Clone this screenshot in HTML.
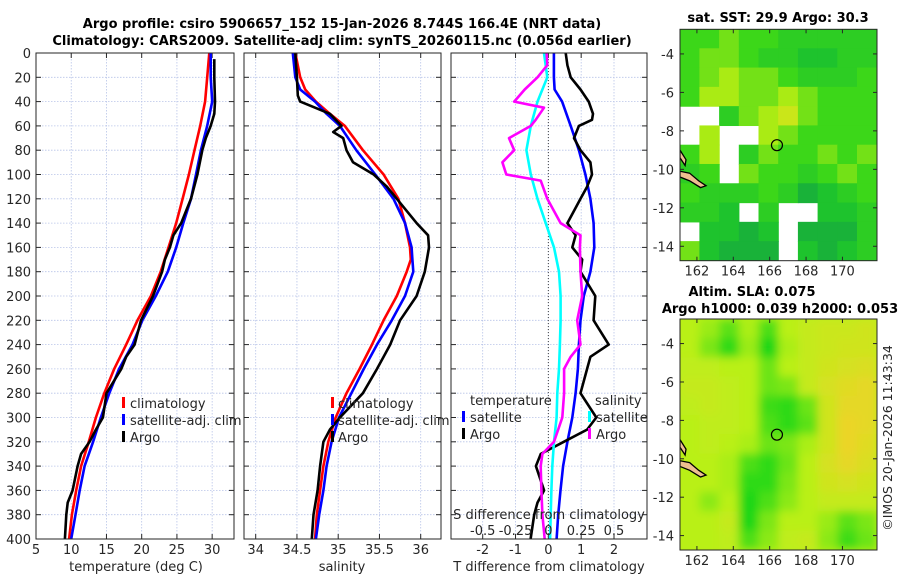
<!DOCTYPE html>
<html><head><meta charset="utf-8"><style>
body{margin:0;background:#fff;}
svg{display:block;font-family:"DejaVu Sans","Liberation Sans",sans-serif;}
</style></head><body>
<svg id="fig" width="900" height="580" viewBox="0 0 900 580" xmlns="http://www.w3.org/2000/svg">
<rect x="0" y="0" width="900" height="580" fill="#fff"/>
<text x="342" y="28" text-anchor="middle" font-size="13" font-weight="bold" fill="#000">Argo profile: csiro 5906657_152 15-Jan-2026 8.744S 166.4E (NRT data)</text>
<text x="342" y="45" text-anchor="middle" font-size="13" font-weight="bold" fill="#000">Climatology: CARS2009. Satellite-adj clim: synTS_20260115.nc (0.056d earlier)</text>
<text x="778" y="22" text-anchor="middle" font-size="13" font-weight="bold">sat. SST: 29.9 Argo: 30.3</text>
<text x="752" y="296" text-anchor="middle" font-size="13" font-weight="bold">Altim. SLA: 0.075</text>
<text x="780" y="313" text-anchor="middle" font-size="13" font-weight="bold">Argo h1000: 0.039 h2000: 0.053</text>
<text transform="translate(892,438) rotate(-90)" text-anchor="middle" font-size="12.5" fill="#262626">©IMOS 20-Jan-2026 11:43:34</text>
<g id="layer"></g>
</svg>
<script>
// ---- data ----
const depthTempClim = [0,20,40,60,80,100,120,140,160,180,200,220,240,260,280,300,320,340,360,380,400];
const tempClim = [29.6,29.3,29.0,28.3,27.5,26.7,25.8,24.9,23.8,22.7,21.3,19.4,17.8,16.1,14.7,13.5,12.5,11.4,10.7,10.1,9.7];
const tempSat = [29.8,29.8,30.0,29.3,28.4,27.7,27.0,25.9,24.9,23.7,22.0,20.1,18.7,16.8,15.4,14.2,13.1,11.9,11.2,10.6,10.0];
const depthArgo = [5,20,40,50,60,70,80,100,120,130,140,150,160,170,180,200,220,240,250,260,280,300,310,320,330,340,360,370,380,400];
const tempArgo = [30.3,30.3,30.4,30.3,29.8,29.1,28.6,27.9,27.0,26.3,25.6,24.5,24.0,23.3,22.9,21.6,19.9,19.0,17.8,17.1,15.0,14.5,13.5,12.6,11.4,10.9,10.2,9.5,9.3,9.1];
const depthSal = [0,20,30,40,50,60,80,100,120,140,160,170,180,200,220,240,260,280,300,320,340,360,380,400];
const salClim = [34.48,34.54,34.60,34.73,34.90,35.08,35.30,35.55,35.73,35.81,35.87,35.88,35.83,35.71,35.55,35.41,35.26,35.10,34.97,34.88,34.82,34.78,34.74,34.72];
const salSat = [34.45,34.48,34.54,34.72,34.86,35.02,35.22,35.45,35.67,35.81,35.89,35.90,35.91,35.81,35.65,35.47,35.31,35.16,35.01,34.92,34.86,34.82,34.77,34.73];
const depthSalArgo = [0,20,35,40,45,50,60,65,70,80,90,100,110,120,140,150,160,180,200,220,240,260,280,300,310,320,340,360,380,400];
const salArgo = [34.48,34.50,34.51,34.54,34.72,34.90,35.04,34.94,35.06,35.10,35.18,35.43,35.59,35.71,35.95,36.09,36.10,36.05,35.95,35.75,35.63,35.47,35.30,35.02,34.90,34.82,34.78,34.75,34.70,34.68];
const depthDiffT = [0,20,30,40,60,80,100,120,140,160,180,190,200,220,240,260,280,300,320,340,360,380,400];
const dTSat = [0.17,0.17,0.19,0.42,0.68,0.93,1.13,1.28,1.38,1.40,1.28,1.18,1.08,0.98,0.93,0.90,0.83,0.73,0.58,0.45,0.37,0.30,0.25];
const depthDiffTArgo = [0,10,20,30,40,50,55,60,70,80,90,100,110,120,130,140,150,160,170,180,200,220,240,250,260,280,300,310,320,330,340,360,370,380,400];
const dTArgo = [0.53,0.58,0.68,0.98,1.23,1.36,1.33,0.93,0.78,0.98,1.28,1.33,1.18,0.98,0.78,0.58,0.83,0.73,1.03,0.98,1.43,1.38,1.84,1.28,1.18,0.98,1.46,1.18,0.47,-0.23,-0.38,-0.13,-0.33,-0.43,-0.54];
const depthDiffS = [0,20,40,60,80,100,120,140,160,180,200,220,240,260,280,300,320,340,360,380,400];
const dSSat = [-0.033,-0.008,-0.083,-0.134,-0.167,-0.134,-0.083,-0.02,0.043,0.081,0.093,0.093,0.088,0.081,0.068,0.063,0.043,0.03,0.023,0.018,0.013];
const depthDiffSArgo = [0,10,20,30,40,45,55,60,70,80,90,100,105,120,140,150,160,180,200,220,240,250,260,280,300,320,330,340,360,380,400];
const dSArgo = [-0.013,-0.008,-0.083,-0.18,-0.26,-0.033,-0.096,-0.134,-0.30,-0.26,-0.35,-0.32,-0.058,-0.008,0.093,0.245,0.24,0.245,0.258,0.22,0.245,0.17,0.12,0.12,0.106,0.043,-0.045,-0.058,-0.053,-0.045,-0.028];
const depthTicks = [0,20,40,60,80,100,120,140,160,180,200,220,240,260,280,300,320,340,360,380,400];
const tempTicks = [5,10,15,20,25,30];
const salTicks = [34,34.5,35,35.5,36];
const salTickLabels = ['34','34.5','35','35.5','36'];
const dTTicks = [-2,-1,0,1,2];
const dSTicks = [-0.5,-0.25,0,0.25,0.5];
const dSTickLabels = ['-0.5','-0.25','0','0.25','0.5'];
const lonTicks = [162,164,166,168,170];
const latTicks = [-4,-6,-8,-10,-12,-14];
const sstGrid = [
[29.9,29.9,30.0,29.9,29.9,29.8,29.8,29.8,29.8,29.8],
[29.9,30.0,30.0,29.9,29.8,29.8,29.7,29.7,29.8,29.8],
[29.9,30.0,30.1,30.0,30.0,29.9,29.8,29.8,29.8,29.9],
[29.9,30.1,30.1,30.0,30.0,30.1,30.0,29.9,29.9,29.9],
[null,null,29.8,30.0,30.1,30.2,30.0,29.9,29.9,29.9],
[null,30.1,null,null,30.1,30.0,29.9,29.9,29.9,29.9],
[29.9,30.1,null,29.8,30.0,29.9,29.9,30.0,29.9,30.0],
[29.8,29.9,null,30.0,29.9,29.9,29.8,29.9,30.0,29.9],
[29.9,29.8,29.8,29.8,29.9,29.8,29.6,29.7,29.8,29.9],
[29.8,29.8,29.7,null,29.8,null,null,29.7,29.7,29.8],
[null,29.7,29.7,29.6,29.7,null,29.6,29.6,29.6,29.8],
[30.0,29.7,29.6,29.6,29.6,null,29.7,29.6,29.7,29.8]];
const slaGrid = [
[1,0.8,0.4,0.9,0.3,1,1.2,1.3,1.3,1.4],
[1,0.6,0.1,0.8,0.0,0.9,1.2,1.3,1.4,1.4],
[1.1,1.1,1,1,0.5,1,1.2,1.4,1.5,1.6],
[1.2,1.2,1.1,1,0.5,0.6,1.2,1.5,1.7,1.8],
[1.1,1.2,1.1,1,0.2,0.1,0.5,1.4,1.8,1.8],
[1,1.1,1.1,1,0.3,0.1,0.4,1.4,1.9,1.8],
[1,1.1,1,0.9,0.5,0.6,0.9,1.4,1.9,1.7],
[1,1,0.9,0.3,0.1,0.5,1,1.5,1.8,1.6],
[1,1,0.9,0.1,0.1,0.6,1,1.4,1.5,1.4],
[1,0.7,1,0.0,0.3,0.7,1,1.2,1.2,1.2],
[1,1,1.2,0.0,0.6,1,1,0.8,0.4,0.6],
[1,1,1.1,0.3,0.7,1.1,1.2,0.7,0.2,0.5]];
const argoLon = 166.4, argoLat = -8.744;

// ---- helpers ----
const NS='http://www.w3.org/2000/svg';
const layer=document.getElementById('layer');
function mk(tag,attrs,parent){const e=document.createElementNS(NS,tag);for(const k in attrs)e.setAttribute(k,attrs[k]);(parent||layer).appendChild(e);return e;}
const Y0=53, Y1=539;
const yD = d => Y0 + d*(Y1-Y0)/400;
function lin(d0,d1,r0,r1){return v=>r0+(v-d0)*(r1-r0)/(d1-d0);}

function panel(name,x0,x1,xs,ticks,labels,showY){
  const g=mk('g',{});
  
  
  ticks.forEach(t=>{const l=mk('line',{x1:xs(t),x2:xs(t),y1:Y0,y2:Y1,stroke:'#b8c4e8','stroke-width':0.8,'stroke-dasharray':'1.5,1.5'},g);});
  depthTicks.forEach(d=>{const l=mk('line',{x1:x0,x2:x1,y1:yD(d),y2:yD(d),stroke:'#b8c4e8','stroke-width':0.8,'stroke-dasharray':'1.5,1.5'},g);
    mk('line',{x1:x0,x2:x0+5,y1:yD(d),y2:yD(d),stroke:'#262626'},g);mk('line',{x1:x1-5,x2:x1,y1:yD(d),y2:yD(d),stroke:'#262626'},g);
    if(showY){const t=mk('text',{x:x0-5,y:yD(d)+5,'text-anchor':'end','font-size':13,fill:'#262626'},g);t.textContent=d;}
  });
  ticks.forEach((t,i)=>{mk('line',{x1:xs(t),x2:xs(t),y1:Y1-5,y2:Y1,stroke:'#262626'},g);mk('line',{x1:xs(t),x2:xs(t),y1:Y0,y2:Y0+5,stroke:'#262626'},g);
    if(labels){const tx=mk('text',{x:xs(t),y:Y1+15,'text-anchor':'middle','font-size':13,fill:'#262626'},g);tx.textContent=labels[i];}});
  return g;
}
function frame(g,x0,x1){const r=mk('rect',{x:x0,y:Y0,width:x1-x0,height:Y1-Y0,fill:'none',stroke:'#262626','stroke-width':1},g);}
function series(g,name,ds,vs,xs,color){
  const pts=ds.map((d,i)=>xs(vs[i]).toFixed(1)+','+yD(d).toFixed(1)).join(' ');
  const p=mk('polyline',{points:pts,fill:'none',stroke:color,'stroke-width':2.6,'stroke-linejoin':'round'},g);
  
  
}
function txt(g,name,x,y,s,opts){const t=mk('text',Object.assign({x:x,y:y,'font-size':13,fill:'#262626'},opts||{}),g);t.textContent=s;return t;}
function legMark(g,x,y,color){const r=mk('rect',{x:x,y:y-11,width:3,height:11,fill:color},g);}

// ---- panel 1: temperature ----
const xT=lin(5,33.1,36,234);
const g1=panel('temperature-panel',36,234,xT,tempTicks,tempTicks.map(String),true);
series(g1,'temp-climatology-line',depthTempClim,tempClim,xT,'#ff0000');
series(g1,'temp-satellite-line',depthTempClim,tempSat,xT,'#0000ff');
series(g1,'temp-argo-line',depthArgo,tempArgo,xT,'#000000');
frame(g1,36,234);
txt(g1,'temp-x-axis-title',136,571,'temperature (deg C)',{'text-anchor':'middle'});
legMark(g1,122,408,'#ff0000');txt(g1,'legend-climatology',130,408,'climatology');
legMark(g1,122,425,'#0000ff');txt(g1,'legend-satellite-adj',130,425,'satellite-adj. clim');
legMark(g1,122,442,'#000000');txt(g1,'legend-argo',130,442,'Argo');

// ---- panel 2: salinity ----
const xS=lin(34,36,255.7,420.7);
const g2=panel('salinity-panel',244,441,xS,salTicks,salTickLabels,false);
series(g2,'sal-climatology-line',depthSal,salClim,xS,'#ff0000');
series(g2,'sal-satellite-line',depthSal,salSat,xS,'#0000ff');
series(g2,'sal-argo-line',depthSalArgo,salArgo,xS,'#000000');
frame(g2,244,441);
txt(g2,'sal-x-axis-title',342,571,'salinity',{'text-anchor':'middle'});
legMark(g2,331,408,'#ff0000');txt(g2,'legend-climatology',338,408,'climatology');
legMark(g2,331,425,'#0000ff');txt(g2,'legend-satellite-adj',338,425,'satellite-adj. clim');
legMark(g2,331,442,'#000000');txt(g2,'legend-argo',338,442,'Argo');

// ---- panel 3: differences ----
const xDT=lin(-2,2,482.7,614);
const xDS=lin(-0.5,0.5,482.7,614);
const g3=panel('difference-panel',451,647,xDT,dTTicks,dTTicks.map(String),false);
const z=mk('line',{x1:xDT(0),x2:xDT(0),y1:Y0,y2:Y1,stroke:'#444','stroke-width':1,'stroke-dasharray':'1,2'},g3);


series(g3,'dT-satellite-line',depthDiffT,dTSat,xDT,'#0000ff');
series(g3,'dT-argo-line',depthDiffTArgo,dTArgo,xDT,'#000000');
series(g3,'dS-satellite-line',depthDiffS,dSSat,xDS,'#00ffff');
series(g3,'dS-argo-line',depthDiffSArgo,dSArgo,xDS,'#ff00ff');
frame(g3,451,647);
txt(g3,'dT-x-axis-title',549,571,'T difference from climatology',{'text-anchor':'middle'});
txt(g3,'dS-axis-title',549,519,'S difference from climatology',{'text-anchor':'middle'});
dSTicks.forEach((t,i)=>txt(g3,'dS-tick-label',xDS(t),535,dSTickLabels[i],{'text-anchor':'middle'}));
txt(g3,'legend-temperature-header',470,405,'temperature');
legMark(g3,462,422,'#0000ff');txt(g3,'legend-t-satellite',470,422,'satellite');
legMark(g3,462,439,'#000000');txt(g3,'legend-t-argo',470,439,'Argo');
txt(g3,'legend-salinity-header',595,405,'salinity');
legMark(g3,588,422,'#00ffff');txt(g3,'legend-s-satellite',596,422,'satellite');
legMark(g3,588,439,'#ff00ff');txt(g3,'legend-s-argo',596,439,'Argo');

// ---- maps ----
function sstColor(v){
  const stops=[[29.5,[20,160,70]],[29.7,[30,195,45]],[29.9,[60,215,25]],[30.1,[170,235,20]],[30.3,[235,225,30]],[30.5,[245,160,30]]];
  if(v<=stops[0][0])return 'rgb('+stops[0][1]+')';
  for(let i=1;i<stops.length;i++){if(v<=stops[i][0]){const a=stops[i-1],b=stops[i],f=(v-a[0])/(b[0]-a[0]);return 'rgb('+a[1].map((c,k)=>Math.round(c+(b[1][k]-c)*f)).join(',')+')';}}
  return 'rgb('+stops[stops.length-1][1]+')';
}
function slaColor(v){
  const stops=[[0,[30,215,20]],[1,[185,240,25]],[2,[240,210,40]]];
  for(let i=1;i<stops.length;i++){if(v<=stops[i][0]){const a=stops[i-1],b=stops[i],f=Math.max(0,(v-a[0])/(b[0]-a[0]));return 'rgb('+a[1].map((c,k)=>Math.round(c+(b[1][k]-c)*f)).join(',')+')';}}
  return 'rgb('+stops[2][1]+')';
}
function mapAxes(name,top,bottom,grid,colorFn,blur){
  const L=680,R=877,lon0=161.07,lon1=171.9,lat0=-2.72,lat1=-14.75;
  const xl=lin(lon0,lon1,L,R), yl=lin(lat0,lat1,top,bottom);
  const g=mk('g',{});
  
  
  const cid=name+'-clip';
  const defs=mk('defs',{},g);
  const cp=mk('clipPath',{id:cid},defs);mk('rect',{x:L,y:top,width:R-L,height:bottom-top},cp);
  if(blur){const f=mk('filter',{id:name+'-blur',x:'-10%',y:'-10%',width:'120%',height:'120%'},defs);mk('feGaussianBlur',{stdDeviation:4.5},f);}
  const cells=mk('g',{'clip-path':'url(#'+cid+')'},g);
  const inner=mk('g',blur?{filter:'url(#'+name+'-blur)'}:{},cells);
  const nr=grid.length,nc=grid[0].length;
  const cw=(R-L)/nc,ch=(bottom-top)/nr;
  if(blur){mk('rect',{x:L-20,y:top-20,width:R-L+40,height:bottom-top+40,fill:colorFn(1)},inner);}
  grid.forEach((row,r)=>row.forEach((v,c)=>{
    if(v===null)return;
    const e=mk('rect',{x:L+c*cw-0.3,y:top+r*ch-0.3,width:cw+0.6,height:ch+0.6,fill:colorFn(v)},inner);
    
    
  }));
  const isl=mk('path',{d:'M'+xl(161.07)+','+yl(-10.1)+' L'+xl(161.6)+','+yl(-10.2)+' L'+xl(162.1)+','+yl(-10.6)+' L'+xl(162.5)+','+yl(-10.85)+' L'+xl(162.2)+','+yl(-10.95)+' L'+xl(161.6)+','+yl(-10.6)+' L'+xl(161.07)+','+yl(-10.4)+' Z M'+xl(161.07)+','+yl(-9.0)+' L'+xl(161.4)+','+yl(-9.5)+' L'+xl(161.35)+','+yl(-9.8)+' L'+xl(161.07)+','+yl(-9.4)+' Z',fill:'#eebf90',stroke:'#000','stroke-width':1.3},cells);
  
  
  const circ=mk('circle',{cx:xl(argoLon),cy:yl(argoLat),r:5.5,fill:'none',stroke:'#000','stroke-width':1.2},g);
  
  
  mk('rect',{x:L,y:top,width:R-L,height:bottom-top,fill:'none',stroke:'#262626','stroke-width':1},g);
  latTicks.forEach(t=>{const y=yl(t);mk('line',{x1:L,x2:L+4,y1:y,y2:y,stroke:'#262626'},g);mk('line',{x1:R-4,x2:R,y1:y,y2:y,stroke:'#262626'},g);
    txt(g,'lat-tick-label',L-6,y+5,String(t),{'text-anchor':'end'});});
  lonTicks.forEach(t=>{const x=xl(t);mk('line',{x1:x,x2:x,y1:bottom-4,y2:bottom,stroke:'#262626'},g);mk('line',{x1:x,x2:x,y1:top,y2:top+4,stroke:'#262626'},g);
    txt(g,'lon-tick-label',x,bottom+15,String(t),{'text-anchor':'middle'});});
}
mapAxes('sst-map',29.3,260.7,sstGrid,sstColor,false);
mapAxes('sla-map',319,550,slaGrid,slaColor,true);
</script>
</body></html>
